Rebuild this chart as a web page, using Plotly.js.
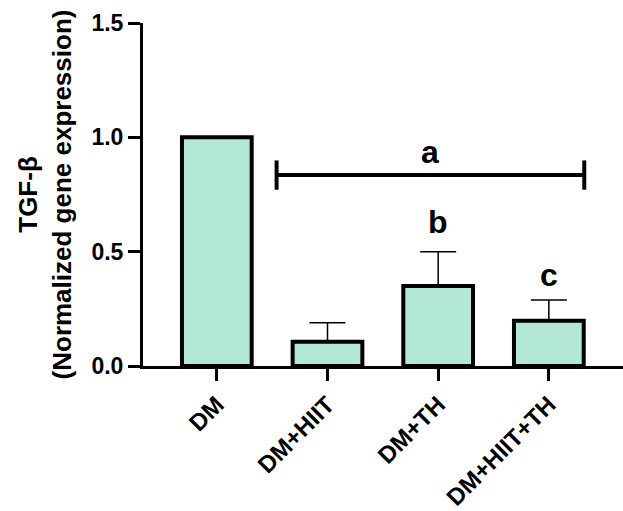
<!DOCTYPE html>
<html>
<head>
<meta charset="utf-8">
<script src="https://cdn.plot.ly/plotly-3.0.1.min.js"></script>
<style>html,body{margin:0;padding:0;background:#fff;}#chart{width:623px;height:511px;}</style>
</head>
<body>
<div id="chart"></div>
<script>
// Data
var categories = ["DM", "DM+HIIT", "DM+TH", "DM+HIIT+TH"];
var values = [1.0, 0.106, 0.350, 0.198];
var errorsPlus = [null, 0.083, 0.150, 0.091];
var yTickVals = [0, 0.5, 1.0, 1.5];
var yTickText = ["0.0", "0.5", "1.0", "1.5"];
var letters = ["a", "b", "c"];
var letterX = [1.93, 2.0, 3.0];
var letterY = [0.935, 0.628, 0.40];
var bracketX = [0.54, 3.32];
var bracketY = 0.835;
var bracketCap = 0.064;

var FONT = "Arial, 'Liberation Sans', Helvetica, sans-serif";

var bars = {
  type: "bar",
  x: [0, 1, 2, 3],
  y: values,
  width: 0.63,
  marker: { color: "#b3e8d6", line: { color: "#000", width: 4 } },
  error_y: {
    type: "data", symmetric: false,
    array: errorsPlus,
    arrayminus: errorsPlus.map(function () { return 0; }),
    color: "#000", thickness: 1.5, width: 18
  },
  hoverinfo: "none",
  showlegend: false
};

var bx = [bracketX[0], bracketX[1], null, bracketX[0], bracketX[0], null, bracketX[1], bracketX[1]];
var by = [bracketY, bracketY, null, bracketY - bracketCap, bracketY + bracketCap, null, bracketY - bracketCap, bracketY + bracketCap];
var bracket = {
  type: "scatter", mode: "lines",
  x: bx, y: by,
  line: { color: "#000", width: 4 },
  hoverinfo: "none", showlegend: false
};

var annotations = letters.map(function (t, i) {
  return {
    x: letterX[i], y: letterY[i], xref: "x", yref: "y",
    text: t, showarrow: false,
    font: { family: FONT, size: 32, color: "#000", weight: "bold" }
  };
});

var layout = {
  width: 623, height: 511,
  margin: { l: 143, r: 0, t: 23, b: 145 },
  paper_bgcolor: "#fff", plot_bgcolor: "#fff",
  showlegend: false,
  xaxis: {
    range: [-0.667, 3.67],
    tickvals: [0, 1, 2, 3],
    ticktext: categories,
    tickangle: -45,
    ticks: "outside", ticklen: 12, tickwidth: 3, tickcolor: "#000",
    showline: true, linecolor: "#000", linewidth: 3,
    showgrid: false, zeroline: false,
    tickfont: { family: FONT, size: 24, color: "#000", weight: "bold" },
    fixedrange: true
  },
  yaxis: {
    range: [0, 1.5],
    tickvals: yTickVals,
    ticktext: yTickText,
    ticks: "outside", ticklen: 12, tickwidth: 3, tickcolor: "#000",
    showline: true, linecolor: "#000", linewidth: 3,
    showgrid: false, zeroline: false,
    tickfont: { family: FONT, size: 23, color: "#000", weight: "bold" },
    title: {
      text: "TGF-β<br>(Normalized gene expression)",
      font: { family: FONT, size: 26, color: "#000", weight: "bold" },
      standoff: 13
    },
    fixedrange: true
  },
  annotations: annotations
};

Plotly.newPlot("chart", [bars, bracket], layout, { staticPlot: true, displayModeBar: false });
</script>
</body>
</html>
